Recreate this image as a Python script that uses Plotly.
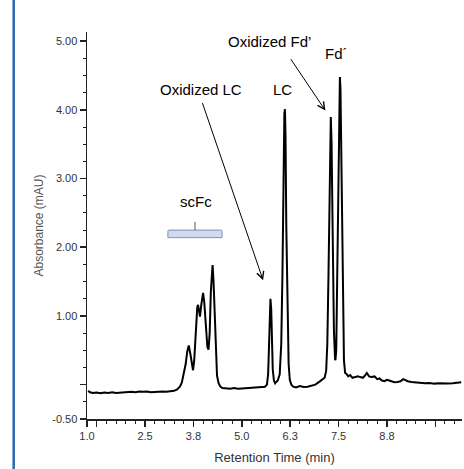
import plotly.graph_objects as go

# ---- data ----
time_min = [
    1.03, 1.08, 1.15, 1.25, 1.35, 1.45, 1.55, 1.65, 1.75, 1.85, 1.95, 2.05, 2.15, 2.25, 2.35,
    2.45, 2.55, 2.65, 2.75, 2.85, 2.95, 3.05, 3.15, 3.25, 3.33, 3.40, 3.45, 3.50, 3.55, 3.59,
    3.63, 3.67, 3.71, 3.74, 3.77, 3.81, 3.85, 3.87, 3.90, 3.92, 3.95, 3.98, 4.00, 4.03, 4.07,
    4.11, 4.14, 4.17, 4.20, 4.23, 4.245, 4.27, 4.30, 4.33, 4.36, 4.40, 4.45, 4.50, 4.60, 4.70,
    4.80, 4.90, 5.00, 5.10, 5.20, 5.30, 5.40, 5.50, 5.60, 5.65, 5.68, 5.70, 5.72, 5.74, 5.76,
    5.78, 5.80, 5.83, 5.86, 5.89, 5.93, 5.98, 6.02, 6.05, 6.08, 6.10, 6.115, 6.13, 6.15, 6.18,
    6.21, 6.24, 6.28, 6.33, 6.40, 6.50, 6.60, 6.70, 6.80, 6.90, 7.00, 7.06, 7.14, 7.18, 7.21,
    7.24, 7.27, 7.29, 7.30, 7.32, 7.35, 7.38, 7.41, 7.42, 7.44, 7.46, 7.49, 7.52, 7.535, 7.55,
    7.58, 7.61, 7.64, 7.67, 7.70, 7.75, 7.80, 7.86, 7.93, 8.00, 8.06, 8.13, 8.18, 8.23, 8.29,
    8.35, 8.43, 8.50, 8.56, 8.62, 8.69, 8.75, 8.81, 8.88, 8.94, 9.02, 9.10, 9.17, 9.23, 9.29,
    9.38, 9.47, 9.60, 9.73, 9.85, 9.98, 10.10, 10.20, 10.33, 10.45, 10.55, 10.67,
]
absorbance_mau = [
    -0.09, -0.11, -0.12, -0.115, -0.125, -0.115, -0.12, -0.11, -0.12, -0.115, -0.11, -0.115, -0.105, -0.11, -0.10,
    -0.105, -0.10, -0.11, -0.105, -0.11, -0.10, -0.105, -0.10, -0.09, -0.07, -0.03, 0.03, 0.17, 0.30, 0.48,
    0.57, 0.45, 0.26, 0.21, 0.35, 0.85, 1.13, 1.16, 1.00, 0.99, 1.15, 1.30, 1.335, 1.20, 0.80,
    0.55, 0.51, 0.75, 1.35, 1.72, 1.74, 1.50, 0.95, 0.40, 0.13, 0.02, -0.03, -0.05, -0.055, -0.06,
    -0.05, -0.06, -0.055, -0.05, -0.05, -0.045, -0.04, -0.04, -0.03, 0.00, 0.15, 0.50, 0.95, 1.25, 1.10,
    0.60, 0.22, 0.06, 0.02, 0.04, 0.06, 0.15, 0.60, 1.60, 3.20, 3.95, 4.01, 3.60, 2.30, 0.90,
    0.30, 0.07, 0.00, -0.03, -0.04, -0.02, -0.035, -0.03, -0.02, 0.00, 0.04, 0.065, 0.10, 0.20, 0.60,
    1.60, 3.10, 3.85, 3.895, 3.50, 2.00, 0.80, 0.37, 0.355, 0.50, 1.40, 3.20, 4.35, 4.477, 4.30,
    2.80, 1.10, 0.35, 0.17, 0.16, 0.12, 0.14, 0.10, 0.11, 0.12, 0.11, 0.10, 0.13, 0.17, 0.12,
    0.11, 0.12, 0.08, 0.09, 0.06, 0.05, 0.07, 0.06, 0.05, 0.035, 0.04, 0.05, 0.08, 0.06, 0.05,
    0.04, 0.035, 0.03, 0.02, 0.025, 0.015, 0.02, 0.015, 0.015, 0.02, 0.025, 0.035,
]

x_tick_vals = [1.0, 1.25, 2.5, 3.75, 5.0, 6.25, 7.5, 8.75, 10.0]
x_tick_text = ["1.0", "", "2.5", "3.8", "5.0", "6.3", "7.5", "8.8", ""]
y_tick_vals = [-0.5, 0.0, 1.0, 2.0, 3.0, 4.0, 5.0]
y_tick_text = ["-0.50", "", "1.00", "2.00", "3.00", "4.00", "5.00"]

FONT = "Liberation Sans, Arial, sans-serif"

fig = go.Figure()
fig.add_trace(go.Scatter(
    x=time_min, y=absorbance_mau, mode="lines",
    line=dict(color="black", width=2), hoverinfo="skip", showlegend=False,
))

ann_font = dict(family=FONT, size=15, color="black")
annotations = [
    dict(x=3.81, y=2.67, text="scFc", showarrow=False, font=ann_font),
    dict(x=5.55, y=1.52, ax=3.97, ay=4.12, axref="x", ayref="y", text="", showarrow=True,
         arrowhead=5, arrowsize=1.4, arrowwidth=1, arrowcolor="black"),
    dict(x=3.94, y=4.30, text="Oxidized LC", showarrow=False, font=ann_font),
    dict(x=6.06, y=4.30, text="LC", showarrow=False, font=ann_font),
    dict(x=7.16, y=3.99, ax=6.24, ay=4.76, axref="x", ayref="y", text="", showarrow=True,
         arrowhead=5, arrowsize=1.4, arrowwidth=1, arrowcolor="black"),
    dict(x=5.72, y=5.00, text="Oxidized Fd’", showarrow=False, font=ann_font),
    dict(x=7.45, y=4.82, text="Fd´", showarrow=False, font=ann_font),
]

shapes = [
    # blue bar on the left edge
    dict(type="line", xref="paper", yref="paper", x0=-0.1955, x1=-0.1955, y0=-0.13, y1=1.09,
         line=dict(color="#2e66b0", width=2.5)),
    # scFc bracket
    dict(type="path", xref="x", yref="y",
         path="M 3.09,2.14 L 3.09,2.23 Q 3.09,2.25 3.12,2.25 L 4.46,2.25 Q 4.49,2.25 4.49,2.23 L 4.49,2.14 Z",
         fillcolor="#cfdbec", line=dict(color="#7f94b3", width=1)),
    dict(type="line", xref="x", yref="y", x0=3.79, x1=3.79, y0=2.25, y1=2.37,
         line=dict(color="#555555", width=1)),
]

fig.update_layout(
    width=464, height=469,
    margin=dict(l=87, r=2, t=32, b=50, autoexpand=False),
    paper_bgcolor="white", plot_bgcolor="white",
    font=dict(family=FONT, size=11, color="#333333"),
    annotations=annotations, shapes=shapes,
    showlegend=False,
)
fig.update_xaxes(
    range=[1.0, 10.69], showgrid=False, zeroline=False, automargin=False,
    showline=True, linecolor="#222222", linewidth=1.5,
    tickmode="array", tickvals=x_tick_vals, ticktext=x_tick_text,
    ticks="outside", ticklen=6, tickwidth=1.5, tickcolor="#222222",
    minor=dict(dtick=0.25, tick0=1.0, ticks="outside", ticklen=3, tickcolor="#222222", tickwidth=1),
    tickfont=dict(family=FONT, size=11, color="#333333"),
    title=dict(text="Retention Time (min)", font=dict(family=FONT, size=13, color="#333333"), standoff=12),
)
fig.update_yaxes(
    range=[-0.5, 5.133], showgrid=False, zeroline=False, automargin=False,
    showline=True, linecolor="#222222", linewidth=1.5,
    tickmode="array", tickvals=y_tick_vals, ticktext=y_tick_text,
    ticks="outside", ticklen=6, tickwidth=1.5, tickcolor="#222222",
    minor=dict(dtick=0.25, tick0=-0.5, ticks="outside", ticklen=3, tickcolor="#222222", tickwidth=1),
    tickfont=dict(family=FONT, size=11, color="#333333"),
    title=dict(text="Absorbance (mAU)", font=dict(family=FONT, size=12, color="#555555"), standoff=6),
)

fig.write_html(
    "out.html",
    config={"displayModeBar": False, "staticPlot": True},
    post_script="document.body.style.margin='0';document.body.style.overflow='hidden';",
)
